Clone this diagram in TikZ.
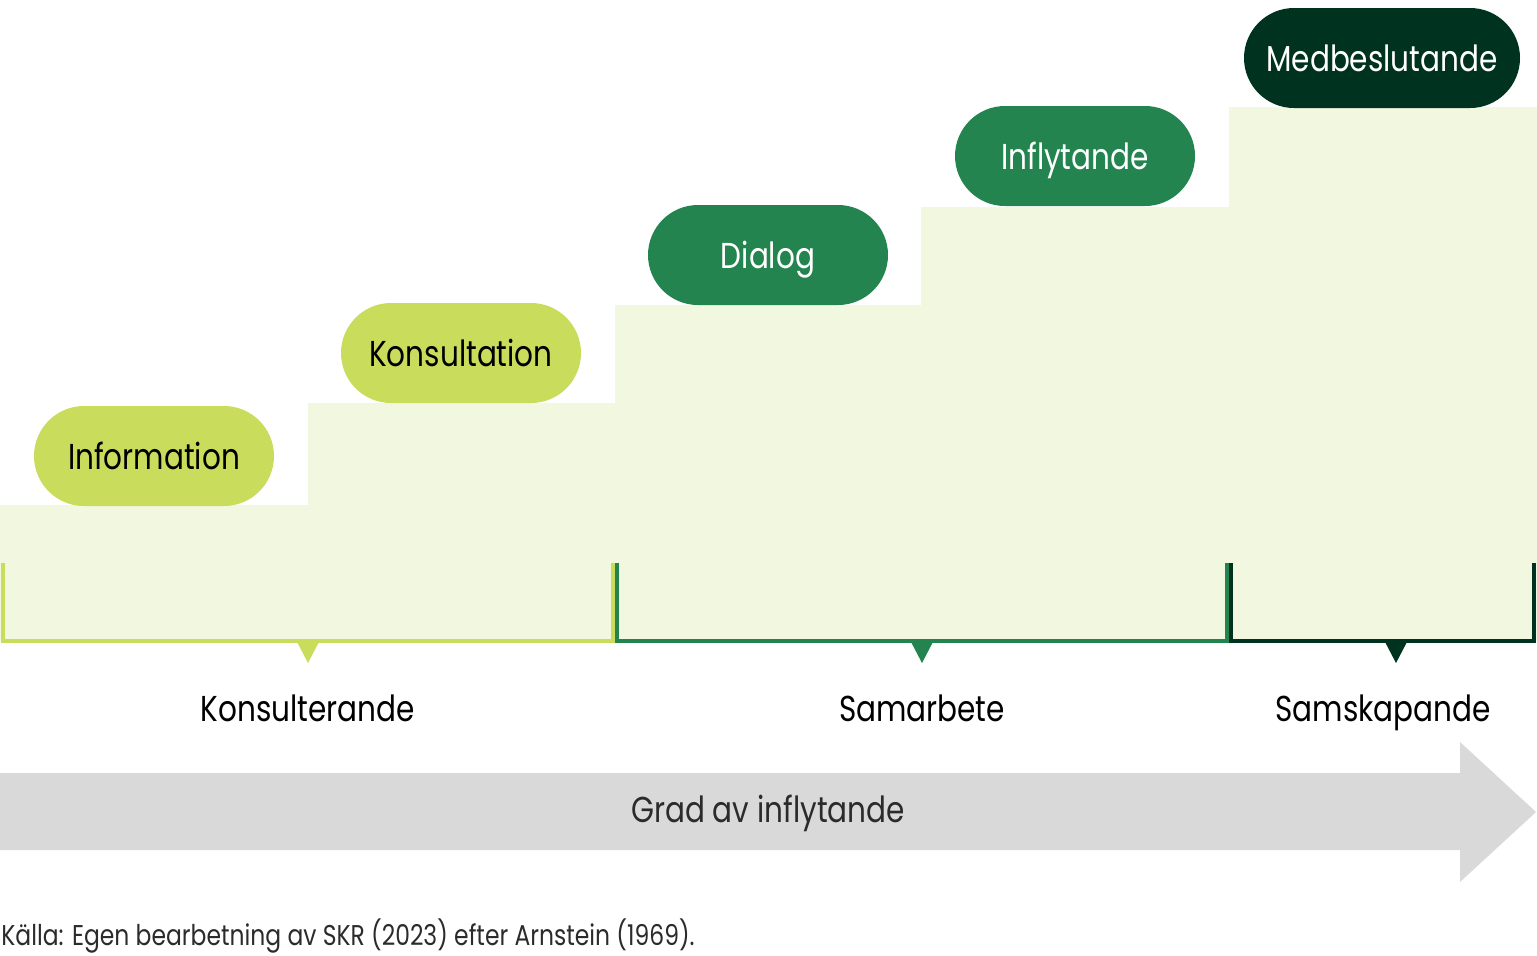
\documentclass[tikz,border=0pt]{standalone}
\usepackage{fontspec}
\setmainfont{Poppins}[FakeStretch=0.82]
\usetikzlibrary{shapes.misc, positioning}

\definecolor{stepbg}{HTML}{F2F7DF}
\definecolor{lime}{HTML}{C9DC5C}
\definecolor{midgreen}{HTML}{238450}
\definecolor{darkgreen}{HTML}{00331F}
\definecolor{arrowgray}{HTML}{D9D9D9}
\definecolor{textgray}{HTML}{2B2B2B}

\begin{document}
\begin{tikzpicture}[
  x=0.5pt, y=-0.5pt,
  pill/.style={rounded rectangle, minimum width=120pt, minimum height=50pt,
               inner sep=0pt, text height=13pt, text depth=0pt,
               font=\fontsize{18}{20}\selectfont},
  lvl/.style={font=\fontsize{18}{20}\selectfont, text=black,
              text height=13pt, text depth=0pt, inner sep=0pt},
  brace/.style={line width=2pt}
]
\useasboundingbox (0,0) rectangle (1537,955);

%% ---------- staircase ----------
\fill[stepbg] (0,641) -- (0,505) -- (308,505) -- (308,403) -- (615,403)
  -- (615,305) -- (921,305) -- (921,207) -- (1229,207) -- (1229,107)
  -- (1537,107) -- (1537,641) -- cycle;

%% ---------- steps ----------
\node[pill, fill=lime, text=black]          (info)  at (154,456) {Information};
\node[pill, fill=lime, text=black]          (kons)  at (461,353) {Konsultation};
\node[pill, fill=midgreen, text=white]      (dial)  at (768,255) {Dialog};
\node[pill, fill=midgreen, text=white]      (infl)  at (1075,156) {Inflytande};
\node[pill, fill=darkgreen, text=white,
      minimum width=138pt]                  (medb)  at (1382,58) {Medbeslutande};

%% ---------- brackets ----------
\draw[brace, lime]      (3,563) -- (3,641) -- (613,641) -- (613,563);
\fill[lime]      (296,640) -- (320,640) -- (308,663) -- cycle;
\draw[brace, midgreen]  (617,563) -- (617,641) -- (1227,641) -- (1227,563);
\fill[midgreen]  (910,640) -- (934,640) -- (922,663) -- cycle;
\draw[brace, darkgreen] (1231,563) -- (1231,641) -- (1534,641) -- (1534,563);
\fill[darkgreen] (1384,640) -- (1408,640) -- (1396,663) -- cycle;

\node[lvl] (konsult) at (308,708)  {Konsulterande};
\node[lvl] (samarb)  at (922,708)  {Samarbete};
\node[lvl] (samsk)   at (1383,708) {Samskapande};

%% ---------- arrow ----------
\fill[arrowgray] (0,773) -- (1460,773) -- (1460,742) -- (1536,812)
  -- (1460,882) -- (1460,850) -- (0,850) -- cycle;
\node[lvl, text=textgray] (grad) at (768,809) {Grad av inflytande};

%% ---------- source ----------
\node[anchor=west, inner sep=0pt, font=\fontsize{14.3}{16}\selectfont,
      text height=10.5pt, text depth=0pt, text=textgray] (kalla) at (1,935)
  {Källa: Egen bearbetning av SKR (2023) efter Arnstein (1969).};
\end{tikzpicture}
\end{document}
